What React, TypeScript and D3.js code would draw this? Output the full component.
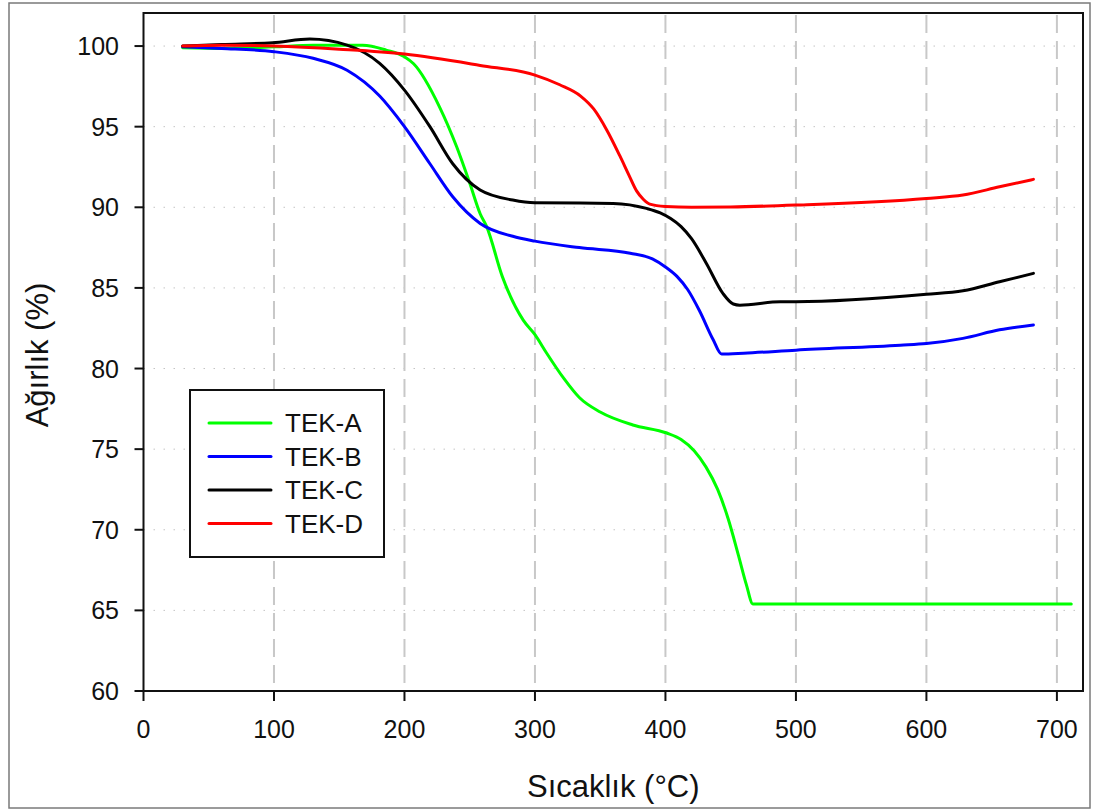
import React from "react";
import * as d3 from "d3";

const xTicks = [0, 100, 200, 300, 400, 500, 600, 700];
const yTicks = [60, 65, 70, 75, 80, 85, 90, 95, 100];
const seriesNames = ["TEK-A", "TEK-B", "TEK-C", "TEK-D"];
const seriesColors = ["#00ff00", "#0000ff", "#000000", "#ff0000"];

const tekA_T = [30, 60, 100, 130, 168, 186, 200, 207, 227, 240, 250, 258, 263, 275, 291, 300, 309, 322, 334, 350, 375, 401, 412, 422, 431, 440, 448, 456, 462, 467, 500, 600, 711];
const tekA_W = [99.9, 99.85, 99.95, 100.05, 100.05, 99.75, 99.34, 98.9, 96.2, 93.75, 91.5, 89.6, 88.8, 85.7, 83.0, 82.1, 80.95, 79.4, 78.2, 77.3, 76.5, 76.0, 75.6, 74.9, 73.9, 72.5, 70.7, 68.4, 66.6, 65.4, 65.4, 65.4, 65.4];

const tekB_T = [30, 60, 100, 130, 156, 181, 200, 219.5, 237, 258, 283, 300, 334, 373, 390, 400, 409, 417, 426, 436.5, 443, 460, 500, 580, 600, 628, 656, 682];
const tekB_W = [99.95, 99.85, 99.65, 99.24, 98.5, 96.9, 95.0, 92.7, 90.65, 89.0, 88.2, 87.9, 87.5, 87.15, 86.8, 86.3, 85.7, 84.9, 83.6, 81.8, 80.9, 80.95, 81.14, 81.45, 81.55, 81.87, 82.4, 82.7];

const tekC_T = [30, 60, 99, 127.5, 156, 181, 200, 219.5, 237, 258, 283, 300, 360, 385.5, 396, 404, 412, 420, 431.5, 444, 452, 457, 488, 500, 600, 628, 656, 682];
const tekC_W = [100, 100.1, 100.2, 100.43, 100.06, 98.93, 97.27, 95.0, 92.7, 91.07, 90.45, 90.28, 90.24, 89.93, 89.65, 89.3, 88.8, 88.05, 86.5, 84.66, 84.0, 83.93, 84.14, 84.14, 84.6, 84.82, 85.38, 85.9];

const tekD_T = [30, 60, 100, 150, 200, 258, 300, 319, 335, 345, 355, 365, 372, 378, 383, 388, 400, 420, 450, 500, 600, 628, 656, 682];
const tekD_W = [100, 100.05, 100.0, 99.8, 99.5, 98.8, 98.2, 97.6, 96.9, 96.1, 94.8, 93.2, 92.0, 91.0, 90.5, 90.2, 90.05, 90.0, 90.02, 90.14, 90.55, 90.76, 91.27, 91.73];

const W = 1093;
const H = 809;
const left = 143.5;
const right = 1083;
const top = 13;
const bottom = 691;
const FONT = "'Liberation Sans', Arial, sans-serif";

export default function App() {
  const x = d3.scaleLinear().domain([0, 720]).range([left, right]);
  const y = d3.scaleLinear().domain([60, 102.05]).range([bottom, top]);
  const line = d3
    .line<[number, number]>()
    .x((d) => x(d[0]))
    .y((d) => y(d[1]))
    .curve(d3.curveMonotoneX);

  const series = [
    [tekA_T, tekA_W],
    [tekB_T, tekB_W],
    [tekC_T, tekC_W],
    [tekD_T, tekD_W],
  ].map(([ts, ws]) => ts.map((t, i) => [t, ws[i]] as [number, number]));

  const drawOrder = [0, 1, 2, 3];

  const legX = 190, legY = 390, legW = 194, legH = 167;
  const rowY = [423, 456.5, 490, 523.5];

  return (
    <div style={{ position: "absolute", left: 0, top: 0 }}>
      <svg width={W} height={H} style={{ display: "block", background: "#fff" }}>
        <rect x={9} y={3} width={1081} height={805} fill="#fff" stroke="#7a7a7a" strokeWidth={1.5} />
        {yTicks.filter((v) => v > 60).map((v) => (
          <line key={"hy" + v} x1={left} x2={right} y1={y(v)} y2={y(v)} stroke="#c4c4c4" strokeWidth={1} strokeDasharray="1.5 8.5" />
        ))}
        {xTicks.filter((v) => v > 0).map((v) => (
          <line key={"vx" + v} x1={x(v)} x2={x(v)} y1={top} y2={bottom} stroke="#c8c8c8" strokeWidth={2} strokeDasharray="18 8" strokeDashoffset={-2} />
        ))}
        {drawOrder.map((i) => (
          <path key={"s" + i} d={line(series[i]) || ""} fill="none" stroke={seriesColors[i]} strokeWidth={3} strokeLinejoin="round" strokeLinecap="round" />
        ))}
        <rect x={left} y={top} width={right - left} height={bottom - top} fill="none" stroke="#111" strokeWidth={2} />
        {yTicks.map((v) => (
          <g key={"yt" + v}>
            <line x1={left - 9} x2={left} y1={y(v)} y2={y(v)} stroke="#111" strokeWidth={2} />
            <text x={119} y={y(v)} dy="0.36em" textAnchor="end" fontFamily={FONT} fontSize={25} fill="#111">{v}</text>
          </g>
        ))}
        {xTicks.map((v) => (
          <g key={"xt" + v}>
            <line x1={x(v)} x2={x(v)} y1={bottom} y2={bottom + 10} stroke="#111" strokeWidth={2} />
            <text x={x(v)} y={738} textAnchor="middle" fontFamily={FONT} fontSize={25} fill="#111">{v}</text>
          </g>
        ))}
        <text x={(left + right) / 2} y={797} textAnchor="middle" fontFamily={FONT} fontSize={31} fill="#111">Sıcaklık (°C)</text>
        <text transform={`translate(48, ${(top + bottom) / 2 + 3}) rotate(-90)`} textAnchor="middle" fontFamily={FONT} fontSize={31} fill="#111">Ağırlık (%)</text>
        <rect x={legX} y={legY} width={legW} height={legH} fill="#fff" stroke="#111" strokeWidth={2} />
        {seriesNames.map((n, i) => (
          <g key={"lg" + i}>
            <line x1={209} x2={271} y1={rowY[i]} y2={rowY[i]} stroke={seriesColors[i]} strokeWidth={3} strokeLinecap="round" />
            <text x={285} y={rowY[i]} dy="0.36em" fontFamily={FONT} fontSize={26} fill="#111">{n}</text>
          </g>
        ))}
      </svg>
    </div>
  );
}
